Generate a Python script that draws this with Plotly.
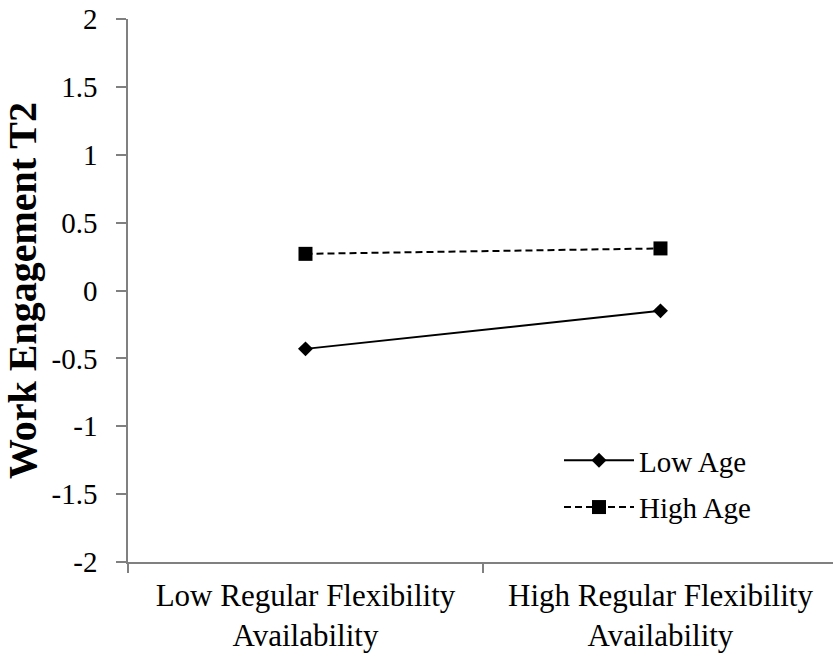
import plotly.graph_objects as go

categories = ["Low Regular Flexibility<br>Availability", "High Regular Flexibility<br>Availability"]
low_age = [-0.43, -0.15]
high_age = [0.27, 0.31]
y_ticks = [-2, -1.5, -1, -0.5, 0, 0.5, 1, 1.5, 2]
y_tick_labels = ["-2", "-1.5", "-1", "-0.5", "0", "0.5", "1", "1.5", "2"]

W, H = 833, 655
ml, mr, mt, mb = 128, 0, 19, 93
plot_w = W - ml - mr
plot_h = H - mt - mb
font_family = "Liberation Serif"

fig = go.Figure()
fig.add_trace(go.Scatter(
    x=categories, y=low_age, name="Low Age", mode="lines+markers",
    line=dict(color="black", width=2),
    marker=dict(symbol="diamond", size=11.5, color="black"),
    legendgroup="a",
))
fig.add_trace(go.Scatter(
    x=categories, y=high_age, name="High Age", mode="lines+markers",
    line=dict(color="black", width=2, dash="7px,4px"),
    marker=dict(symbol="square", size=14, color="black"),
    legendgroup="b",
))

axis_color = "#808080"
fig.update_layout(
    width=W, height=H,
    margin=dict(l=ml, r=mr, t=mt, b=mb, pad=0, autoexpand=False),
    paper_bgcolor="white", plot_bgcolor="white",
    font=dict(family=font_family, size=30, color="black"),
    showlegend=True,
    legend=dict(
        x=431 / plot_w, xanchor="left",
        y=127 / plot_h, yanchor="top",
        bgcolor="rgba(0,0,0,0)", font=dict(size=29),
        itemwidth=70, tracegroupgap=6,
    ),
    xaxis=dict(
        type="category", range=[-0.5, 1.486], automargin=False,
        showline=True, linecolor=axis_color, linewidth=1.5,
        ticks="outside", tickson="boundaries", ticklen=9, tickcolor=axis_color, tickwidth=1.5,
        showgrid=False, zeroline=False,
        tickfont=dict(size=31), ticklabelstandoff=5, ticklabeloverflow="allow",
    ),
    yaxis=dict(
        range=[-2, 2], tickvals=y_ticks, ticktext=y_tick_labels, automargin=False,
        showline=True, linecolor=axis_color, linewidth=1.5,
        ticks="outside", ticklen=10, tickcolor=axis_color, tickwidth=1.5,
        showgrid=False, zeroline=False,
        tickfont=dict(size=29), ticklabelstandoff=13, ticklabeloverflow="allow",
        title=dict(text="<b>Work Engagement T2</b>", font=dict(size=40), standoff=10),
    ),
)

fig.write_html(
    "out.html",
    config={"displayModeBar": False},
    post_script="document.body.style.margin='0';document.body.style.overflow='hidden';",
)
